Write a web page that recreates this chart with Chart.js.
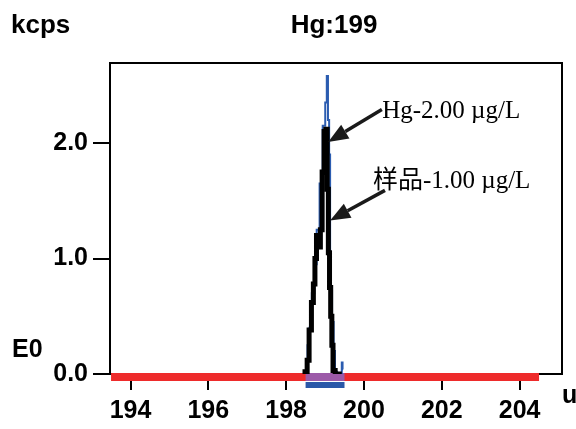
<!DOCTYPE html>
<html lang="zh">
<head>
<meta charset="UTF-8">
<title>Hg:199</title>
<script src="https://cdn.jsdelivr.net/npm/chart.js"></script>
<style>
  html, body { margin: 0; padding: 0; background: #fff; }
</style>
</head>
<body>
<canvas id="scanChart" width="576" height="429"></canvas>
<script>
// axis ticks
const massTicks = [194, 196, 198, 200, 202, 204];
const kcpsTicks = [0, 1, 2];

// sample scan, 1.00 µg/L (black trace)
const sampleMass = [198.45, 198.52, 198.56, 198.62, 198.68, 198.72, 198.76, 198.80, 198.86, 198.90, 198.95, 199.00, 199.04, 199.07, 199.10, 199.13, 199.16, 199.19, 199.22, 199.30, 199.43];
const sampleKcps = [0.00, 0.02, 0.12, 0.38, 0.62, 0.78, 1.00, 1.20, 1.10, 1.25, 1.75, 2.10, 2.12, 1.60, 1.05, 0.75, 0.50, 0.25, 0.03, 0.00, 0.00];

// Hg standard scan, 2.00 µg/L (blue trace)
const stdMass = [198.45, 198.52, 198.58, 198.62, 198.70, 198.75, 198.82, 198.90, 198.98, 199.03, 199.06, 199.09, 199.12, 199.14, 199.16, 199.20, 199.24, 199.27, 199.35, 199.42, 199.44, 199.46];
const stdKcps = [0.00, 0.02, 0.25, 0.40, 0.70, 0.95, 1.25, 1.65, 2.15, 2.35, 2.58, 2.20, 1.90, 1.00, 0.72, 0.45, 0.20, 0.02, 0.00, 0.00, 0.10, 0.04];

// scan range and peak integration window (u)
const scanRange = [193.5, 204.5];
const peakWindow = [198.5, 199.5];

// annotation labels with arrow tips on the traces
const noteText = ['Hg-2.00 µg/L', '样品-1.00 µg/L'];
const noteTip = [[199.08, 2.01], [199.13, 1.33]];
const noteTail = [[200.46, 2.29], [200.54, 1.59]];
const noteAt = [[200.47, 2.22], [200.23, 1.61]];

const toPoints = (xs, ys) => xs.map((x, i) => ({ x: x, y: ys[i] }));
const band = (range, level) => range.map(x => ({ x: x, y: level }));

const sansBold = { family: '"Liberation Sans", Arial, sans-serif', size: 25, weight: 'bold' };

// box around the plot area
const framePlugin = {
  id: 'frame',
  beforeDatasetsDraw(chart) {
    const a = chart.chartArea, ctx = chart.ctx;
    ctx.save();
    ctx.strokeStyle = '#000';
    ctx.lineWidth = 2;
    ctx.strokeRect(a.left, a.top, a.right - a.left, a.bottom - a.top);
    ctx.restore();
  }
};

// titles, units and arrow notes
const textPlugin = {
  id: 'texts',
  afterDraw(chart) {
    const ctx = chart.ctx, xs = chart.scales.x, ys = chart.scales.y;
    ctx.save();
    ctx.fillStyle = '#000';
    ctx.font = 'bold 26px "Liberation Sans", Arial, sans-serif';
    ctx.textBaseline = 'alphabetic';
    ctx.textAlign = 'left';
    ctx.fillText('kcps', 11, 33);
    ctx.textAlign = 'center';
    ctx.fillText('Hg:199', 334, 33);
    ctx.font = 'bold 25px "Liberation Sans", Arial, sans-serif';
    ctx.textAlign = 'left';
    ctx.fillText('E0', 12, 357);
    ctx.fillText('u', 562, 403);

    ctx.font = '25px "Liberation Serif", "Times New Roman", "Noto Sans CJK SC", serif';
    noteText.forEach((t, i) => {
      ctx.fillText(t, xs.getPixelForValue(noteAt[i][0]), ys.getPixelForValue(noteAt[i][1]));
      const x0 = xs.getPixelForValue(noteTail[i][0]), y0 = ys.getPixelForValue(noteTail[i][1]);
      const x1 = xs.getPixelForValue(noteTip[i][0]), y1 = ys.getPixelForValue(noteTip[i][1]);
      const ang = Math.atan2(y1 - y0, x1 - x0);
      const len = 20, half = 8;
      const bx = x1 - len * Math.cos(ang), by = y1 - len * Math.sin(ang);
      ctx.strokeStyle = '#1a1a1a';
      ctx.lineWidth = 3.5;
      ctx.beginPath();
      ctx.moveTo(x0, y0);
      ctx.lineTo(bx, by);
      ctx.stroke();
      ctx.fillStyle = '#1a1a1a';
      ctx.beginPath();
      ctx.moveTo(x1, y1);
      ctx.lineTo(bx + half * Math.sin(ang), by - half * Math.cos(ang));
      ctx.lineTo(bx - half * Math.sin(ang), by + half * Math.cos(ang));
      ctx.closePath();
      ctx.fill();
      ctx.fillStyle = '#000';
    });
    ctx.restore();
  }
};

const bandLevel = -0.026;
const lowLevel = -0.095;

new Chart(document.getElementById('scanChart'), {
  type: 'line',
  data: {
    datasets: [
      { data: toPoints(sampleMass, sampleKcps), borderColor: '#000', borderWidth: 5, pointRadius: 0, stepped: 'middle' },
      { data: toPoints(stdMass, stdKcps), borderColor: '#2b5cb0', borderWidth: 2, pointRadius: 0, stepped: 'middle' },
      { data: band(peakWindow, bandLevel), borderColor: '#9c5aa8', borderWidth: 8, pointRadius: 0, clip: false },
      { data: band(peakWindow, lowLevel), borderColor: '#2a58a8', borderWidth: 6, pointRadius: 0, clip: false },
      { data: band(scanRange, bandLevel), borderColor: '#ee2b2b', borderWidth: 8, pointRadius: 0, clip: false }
    ]
  },
  options: {
    responsive: false,
    animation: false,
    layout: { padding: { top: 63, right: 14, left: 0, bottom: 0 } },
    plugins: { legend: { display: false }, tooltip: { enabled: false } },
    scales: {
      x: {
        type: 'linear',
        min: 193.473,
        max: 205.09,
        afterFit(s) { s.height = 55; },
        afterBuildTicks(s) { s.ticks = massTicks.map(v => ({ value: v })); },
        grid: { drawOnChartArea: false, tickLength: 16, color: '#000', lineWidth: 2 },
        border: { display: false },
        ticks: { color: '#000', font: sansBold, padding: 6, maxRotation: 0, callback: v => v }
      },
      y: {
        min: 0,
        max: 2.693,
        afterFit(s) { s.width = 110; },
        afterBuildTicks(s) { s.ticks = kcpsTicks.map(v => ({ value: v })); },
        grid: { drawOnChartArea: false, tickLength: 17, color: '#000', lineWidth: 2 },
        border: { display: false },
        ticks: { color: '#000', font: sansBold, padding: 5, callback: v => v.toFixed(1) }
      }
    }
  },
  plugins: [framePlugin, textPlugin]
});
</script>
</body>
</html>
